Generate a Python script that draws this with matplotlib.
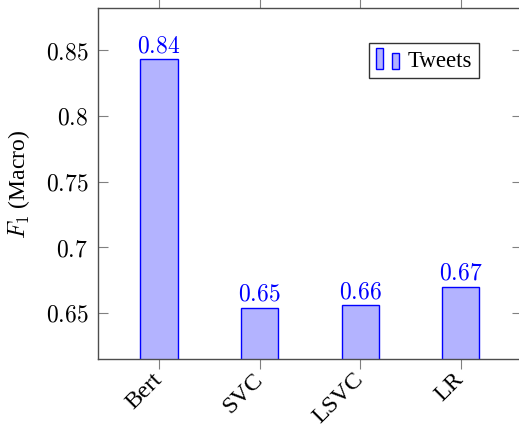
import matplotlib
matplotlib.use('Agg')
import matplotlib.pyplot as plt
from matplotlib.patches import Rectangle
from matplotlib.legend_handler import HandlerBase

plt.rcParams['font.family'] = ['Liberation Serif', 'DejaVu Serif']
plt.rcParams['mathtext.fontset'] = 'cm'

# data
models = ['Bert', 'SVC', 'LSVC', 'LR']
f1_macro = [0.843, 0.654, 0.656, 0.670]
bar_text = ['0.84', '0.65', '0.66', '0.67']
yticks = [0.65, 0.7, 0.75, 0.8, 0.85]
ytick_text = ['0.65', '0.7', '0.75', '0.8', '0.85']

fill = (0.7, 0.7, 1.0)
edge = (0.0, 0.0, 1.0)


class TwoBars(HandlerBase):
    # pgfplots style ybar legend: two little bars
    def create_artists(self, legend, orig, xd, yd, w, h, fontsize, trans):
        r1 = Rectangle((xd + 0.0 * w, yd - 0.2 * h), 0.26 * w, 1.3 * h,
                       facecolor=fill, edgecolor=edge, lw=1.0, transform=trans)
        r2 = Rectangle((xd + 0.6 * w, yd - 0.2 * h), 0.26 * w, 1.0 * h,
                       facecolor=fill, edgecolor=edge, lw=1.0, transform=trans)
        return [r1, r2]


fig = plt.figure(figsize=(5.19, 4.27), dpi=100)
ax = fig.add_axes([98 / 519, 67 / 427, 424 / 519, 351 / 427])

x = list(range(len(models)))
bars = ax.bar(x, f1_macro, width=0.37, color=fill, edgecolor=edge, linewidth=1.0,
              label='Tweets', zorder=2)
ax.bar_label(bars, labels=['$' + t + '$' for t in bar_text], padding=2,
             color=edge, fontsize=17)

ax.set_xlim(-0.607, 3.61)
ax.set_ylim(0.615, 0.882)

ax.set_xticks(x)
ax.set_xticklabels(models, rotation=45, ha='right', va='center',
                   rotation_mode='anchor', fontsize=17.5)
ax.set_yticks(yticks)
ax.set_yticklabels(['$' + t + '$' for t in ytick_text], fontsize=17)

ax.tick_params(axis='x', direction='out', length=7, width=0.8, color='0.5',
               top=True, bottom=True, pad=5)
ax.tick_params(axis='y', direction='in', length=7, width=0.8, color='0.5',
               left=True, right=True, pad=7)
for s in ax.spines.values():
    s.set_color('0.3')
    s.set_linewidth(1.0)

ax.set_ylabel('$F_1$ (Macro)', fontsize=17, labelpad=10)

leg = ax.legend(handler_map={bars: TwoBars()}, loc='upper left',
                bbox_to_anchor=(369 / 519, 1 - 44 / 427),
                bbox_transform=fig.transFigure, borderaxespad=0,
                fontsize=16.5, frameon=True, fancybox=False, handlelength=1.15,
                handletextpad=0.25, borderpad=0.3)
leg.get_frame().set_edgecolor('black')
leg.get_frame().set_linewidth(1.0)

fig.savefig('out.png', dpi=100)
